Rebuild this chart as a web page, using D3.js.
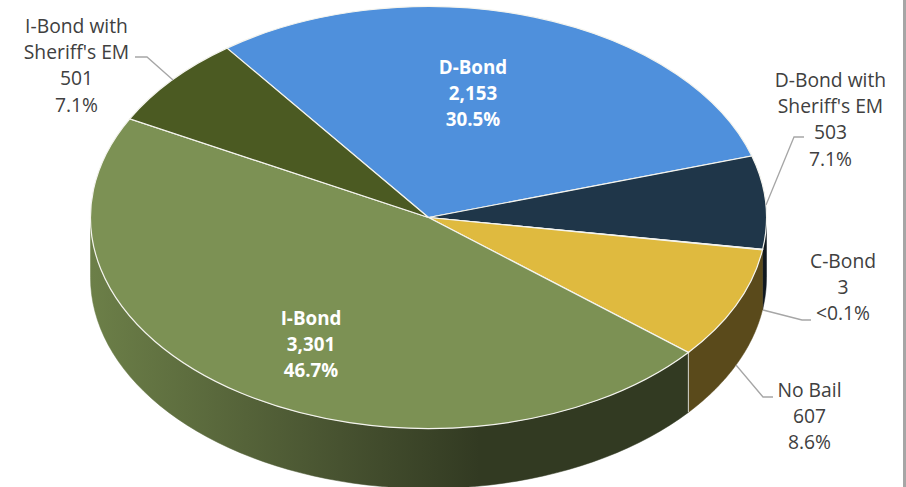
<!DOCTYPE html>
<html>
<head>
<meta charset="utf-8">
<script src="https://cdn.jsdelivr.net/npm/d3@7"></script>
<style>
  html, body { margin: 0; padding: 0; background: #fff; overflow: hidden; }
  text { font-family: "Open Sans", "Noto Sans", sans-serif; font-size: 19.3px; fill: #404040; }
  text.inside { fill: #fff; font-weight: 700; font-size: 18.8px; }
</style>
</head>
<body>
<svg id="chart"></svg>
<script>
const categories = ["D-Bond", "D-Bond with Sheriff's EM", "C-Bond", "No Bail", "I-Bond", "I-Bond with Sheriff's EM"];
const counts = [2153, 503, 3, 607, 3301, 501];
const percents = ["30.5%", "7.1%", "<0.1%", "8.6%", "46.7%", "7.1%"];
const topColors = ["#4f90dc", "#1f3649", "#7f7f7f", "#dfba3f", "#7c9154", "#4b5a22"];
const wallStops = [
  ["#2b4f7a", "#2b4f7a", "#2b4f7a"],
  ["#15222e", "#15222e", "#10181f"],
  ["#333333", "#333333", "#333333"],
  ["#5a4a1b", "#5a4a1b", "#5a4a1b"],
  ["#6c7f48", "#475230", "#323a22"],
  ["#36411a", "#36411a", "#36411a"]
];

const width = 906, height = 487;
const cx = 428.5, cy = 217.5, rx = 338, ry = 211, depth = 60;
const startAngle = -36.6 * Math.PI / 180;

const svg = d3.select("#chart").attr("width", width).attr("height", height);
const defs = svg.append("defs");

const pie = d3.pie().sort(null).value(d => d)
  .startAngle(startAngle).endAngle(startAngle + 2 * Math.PI);
const slices = pie(counts);

// angle measured clockwise from 12 o'clock, squashed into the ellipse
const px = a => cx + rx * Math.sin(a);
const py = a => cy - ry * Math.cos(a);

// horizontal gradients for the side walls
wallStops.forEach((c, i) => {
  const g = defs.append("linearGradient").attr("id", "wall" + i)
    .attr("gradientUnits", "userSpaceOnUse")
    .attr("x1", 91).attr("x2", 480).attr("y1", 0).attr("y2", 0);
  c.forEach((col, k) => {
    g.append("stop").attr("offset", [0, 0.64, 1][k]).attr("stop-color", col);
  });
});

// side walls, only the front half of the rim shows
const walls = svg.append("g");
slices.forEach((s, i) => {
  const a0 = Math.max(s.startAngle, Math.PI / 2), a1 = Math.min(s.endAngle, 3 * Math.PI / 2);
  if (a1 <= a0) return;
  const angles = d3.range(0, 61).map(k => a0 + (a1 - a0) * k / 60);
  const area = d3.area()
    .x(a => px(a))
    .y0(a => py(a))
    .y1(a => py(a) + depth);
  walls.append("path")
    .attr("d", area(angles))
    .attr("fill", `url(#wall${i})`)
    .attr("stroke", `url(#wall${i})`)
    .attr("stroke-width", 0.5);
});

// seam between No Bail and I-Bond walls
const seam = slices[3].endAngle;
walls.append("line")
  .attr("x1", px(seam)).attr("y1", py(seam))
  .attr("x2", px(seam)).attr("y2", py(seam) + depth)
  .attr("stroke", "#d8d8d0").attr("stroke-width", 1);

// top face
const arc = d3.arc().innerRadius(0).outerRadius(rx);
const face = svg.append("g")
  .attr("transform", `translate(${cx},${cy}) scale(1,${ry / rx})`);
face.selectAll("path")
  .data(slices)
  .enter()
  .append("path")
  .attr("d", arc)
  .attr("fill", (d, i) => topColors[i])
  .attr("stroke", "#f4f4ee")
  .attr("stroke-width", 1.2)
  .attr("vector-effect", "non-scaling-stroke");

// leader lines
const leaders = [
  [[135, 57], [147, 57], [173, 80]],
  [[804, 137], [794, 137], [766, 205]],
  [[811, 320], [802, 320], [763, 310]],
  [[773, 397], [763, 397], [736, 365]]
];
svg.append("g").selectAll("path")
  .data(leaders)
  .enter()
  .append("path")
  .attr("d", d3.line())
  .attr("fill", "none")
  .attr("stroke", "#a6a6a6")
  .attr("stroke-width", 1.3);

// labels, one entry per line
const fmt = d3.format(",");
const labels = [
  { i: 0, x: 473, y: 73.5, lines: ["D-Bond"], inside: true },
  { i: 1, x: 830.5, y: 86.5, lines: ["D-Bond with", "Sheriff's EM"] },
  { i: 2, x: 843, y: 267.5, lines: ["C-Bond"] },
  { i: 3, x: 809.5, y: 396.5, lines: ["No Bail"] },
  { i: 4, x: 311, y: 324.5, lines: ["I-Bond"], inside: true },
  { i: 5, x: 76.5, y: 32.5, lines: ["I-Bond with", "Sheriff's EM"] }
];
const lineGap = 26.4;
labels.forEach(l => {
  const rows = l.lines.concat([fmt(counts[l.i]), percents[l.i]]);
  svg.append("g").selectAll("text")
    .data(rows)
    .enter()
    .append("text")
    .attr("class", l.inside ? "inside" : null)
    .attr("x", l.x)
    .attr("y", (d, k) => l.y + k * lineGap)
    .attr("text-anchor", "middle")
    .text(d => d);
});

// grey edge on the right of the screenshot
svg.append("rect").attr("x", 903).attr("y", 0).attr("width", 3).attr("height", height).attr("fill", "#a6a6a6");
</script>
</body>
</html>
